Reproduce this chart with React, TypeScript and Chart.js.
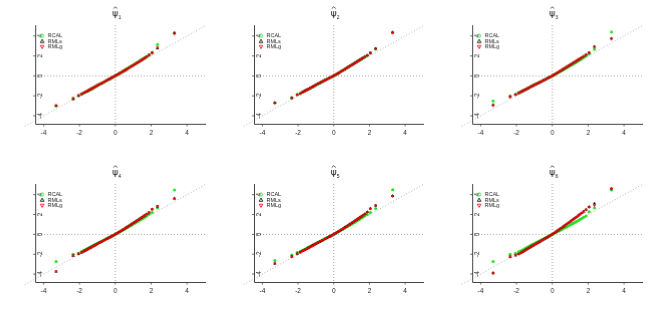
import React, { useEffect, useRef } from "react";
import { Chart, registerables } from "chart.js";
Chart.register(...registerables);

// theoretical quantiles (shared by every panel)
const xq = [-3.3, -2.35, -2.05, -1.88, -1.75, -1.64, -1.54, -1.45, -1.36, -1.27, -1.18, -1.09, -1.0, -0.9, -0.8, -0.7, -0.6, -0.5, -0.4, -0.3, -0.2, -0.1, 0, 0.1, 0.2, 0.3, 0.4, 0.5, 0.6, 0.7, 0.8, 0.9, 1.0, 1.09, 1.18, 1.27, 1.36, 1.45, 1.54, 1.64, 1.75, 1.88, 2.05, 2.35, 3.3];

const seriesNames = ["RCAL", "RMLs", "RMLg"];
const titleSymbols = ["ψ", "ψ", "ψ", "ψ", "ψ", "ψ"];
const titleSubs = ["1", "2", "3", "4", "5", "6"];
const xTicks = [-4, -2, 0, 2, 4];
const yTicks = [-4, -2, 0, 2, 4];

// panel 1
const rcal1 = [-3.0, -2.3, -2.0, -1.84, -1.72, -1.62, -1.53, -1.44, -1.35, -1.26, -1.16, -1.07, -0.98, -0.88, -0.78, -0.68, -0.58, -0.48, -0.38, -0.28, -0.18, -0.08, 0.02, 0.12, 0.23, 0.33, 0.44, 0.55, 0.66, 0.77, 0.89, 1.0, 1.11, 1.21, 1.31, 1.41, 1.51, 1.6, 1.7, 1.8, 1.92, 2.08, 2.33, 3.15, 4.32];
const rmls1 = [-3.0, -2.32, -1.96, -1.81, -1.69, -1.59, -1.5, -1.41, -1.32, -1.23, -1.14, -1.05, -0.96, -0.86, -0.76, -0.67, -0.57, -0.48, -0.38, -0.29, -0.19, -0.09, 0.01, 0.11, 0.21, 0.31, 0.41, 0.52, 0.62, 0.73, 0.84, 0.95, 1.06, 1.16, 1.26, 1.36, 1.46, 1.56, 1.67, 1.79, 1.92, 2.1, 2.32, 2.75, 4.28];
const rmlg1 = [-2.95, -2.22, -1.95, -1.8, -1.68, -1.58, -1.49, -1.4, -1.31, -1.22, -1.13, -1.04, -0.95, -0.86, -0.76, -0.67, -0.57, -0.48, -0.38, -0.29, -0.19, -0.09, 0.01, 0.11, 0.21, 0.31, 0.41, 0.52, 0.62, 0.73, 0.84, 0.95, 1.06, 1.16, 1.26, 1.36, 1.46, 1.56, 1.67, 1.79, 1.92, 2.1, 2.3, 2.85, 4.22];

// panel 2
const rcal2 = [-2.7, -2.2, -1.88, -1.76, -1.62, -1.52, -1.43, -1.35, -1.26, -1.18, -1.09, -1.0, -0.91, -0.81, -0.72, -0.62, -0.53, -0.44, -0.35, -0.26, -0.17, -0.08, 0.01, 0.11, 0.22, 0.32, 0.43, 0.54, 0.65, 0.76, 0.87, 0.98, 1.09, 1.19, 1.29, 1.39, 1.49, 1.59, 1.69, 1.8, 1.92, 2.05, 2.3, 2.72, 4.35];
const rmls2 = [-2.7, -2.2, -1.88, -1.76, -1.62, -1.52, -1.43, -1.35, -1.26, -1.18, -1.09, -1.0, -0.91, -0.81, -0.72, -0.62, -0.53, -0.44, -0.35, -0.26, -0.17, -0.08, 0.01, 0.11, 0.22, 0.32, 0.43, 0.54, 0.65, 0.76, 0.87, 0.98, 1.09, 1.19, 1.29, 1.39, 1.49, 1.59, 1.69, 1.8, 1.92, 2.05, 2.3, 2.72, 4.35];
const rmlg2 = [-2.7, -2.2, -1.88, -1.76, -1.62, -1.52, -1.43, -1.35, -1.26, -1.18, -1.09, -1.0, -0.91, -0.81, -0.72, -0.62, -0.53, -0.44, -0.35, -0.26, -0.17, -0.08, 0.01, 0.11, 0.22, 0.32, 0.43, 0.54, 0.65, 0.76, 0.87, 0.98, 1.09, 1.19, 1.29, 1.39, 1.49, 1.59, 1.69, 1.8, 1.92, 2.05, 2.3, 2.72, 4.35];

// panel 3
const rcal3 = [-2.5, -2.0, -1.82, -1.68, -1.57, -1.48, -1.39, -1.31, -1.22, -1.14, -1.06, -0.98, -0.9, -0.81, -0.72, -0.63, -0.54, -0.45, -0.36, -0.27, -0.18, -0.09, 0.0, 0.1, 0.2, 0.3, 0.4, 0.5, 0.6, 0.7, 0.8, 0.91, 1.01, 1.1, 1.19, 1.29, 1.39, 1.49, 1.59, 1.7, 1.83, 1.98, 2.2, 2.67, 4.4];
const rmls3 = [-2.9, -2.1, -1.88, -1.72, -1.6, -1.5, -1.41, -1.33, -1.24, -1.16, -1.07, -0.99, -0.91, -0.82, -0.73, -0.64, -0.55, -0.46, -0.37, -0.28, -0.18, -0.09, 0.01, 0.12, 0.23, 0.34, 0.45, 0.56, 0.67, 0.78, 0.89, 1.0, 1.11, 1.21, 1.31, 1.41, 1.51, 1.62, 1.72, 1.84, 1.97, 2.12, 2.33, 2.93, 3.73];
const rmlg3 = [-2.97, -2.1, -1.88, -1.72, -1.6, -1.5, -1.41, -1.33, -1.24, -1.16, -1.07, -0.99, -0.91, -0.82, -0.73, -0.64, -0.55, -0.46, -0.37, -0.28, -0.18, -0.09, 0.01, 0.12, 0.23, 0.34, 0.45, 0.56, 0.67, 0.78, 0.89, 1.0, 1.11, 1.21, 1.31, 1.41, 1.51, 1.62, 1.72, 1.84, 1.97, 2.12, 2.33, 2.9, 3.73];

// panel 4
const rcal4 = [-2.73, -2.0, -1.9, -1.72, -1.6, -1.5, -1.41, -1.32, -1.24, -1.15, -1.07, -0.98, -0.9, -0.8, -0.71, -0.62, -0.53, -0.44, -0.35, -0.26, -0.17, -0.08, 0.01, 0.1, 0.2, 0.3, 0.4, 0.5, 0.61, 0.71, 0.82, 0.92, 1.03, 1.13, 1.23, 1.33, 1.43, 1.53, 1.63, 1.74, 1.86, 2.0, 2.2, 2.67, 4.47];
const rmls4 = [-3.75, -2.15, -1.96, -1.83, -1.7, -1.6, -1.5, -1.41, -1.32, -1.23, -1.14, -1.05, -0.96, -0.86, -0.77, -0.67, -0.58, -0.48, -0.39, -0.29, -0.19, -0.09, 0.01, 0.12, 0.23, 0.34, 0.45, 0.56, 0.68, 0.79, 0.91, 1.02, 1.14, 1.25, 1.36, 1.46, 1.57, 1.68, 1.79, 1.91, 2.04, 2.2, 2.53, 2.8, 3.62];
const rmlg4 = [-3.73, -2.13, -1.95, -1.82, -1.7, -1.6, -1.5, -1.41, -1.32, -1.23, -1.14, -1.05, -0.96, -0.86, -0.77, -0.67, -0.58, -0.48, -0.39, -0.29, -0.19, -0.09, 0.01, 0.12, 0.23, 0.34, 0.45, 0.56, 0.68, 0.79, 0.91, 1.02, 1.14, 1.25, 1.36, 1.46, 1.57, 1.68, 1.79, 1.91, 2.04, 2.2, 2.53, 2.87, 3.6];

// panel 5
const rcal5 = [-2.63, -2.07, -1.83, -1.72, -1.6, -1.51, -1.42, -1.33, -1.25, -1.16, -1.08, -0.99, -0.91, -0.81, -0.72, -0.63, -0.54, -0.45, -0.36, -0.27, -0.18, -0.08, 0.01, 0.1, 0.2, 0.3, 0.4, 0.5, 0.61, 0.71, 0.82, 0.92, 1.03, 1.13, 1.23, 1.33, 1.43, 1.53, 1.64, 1.75, 1.87, 2.0, 2.2, 2.6, 4.5];
const rmls5 = [-2.95, -2.24, -1.95, -1.8, -1.68, -1.58, -1.48, -1.39, -1.3, -1.21, -1.12, -1.03, -0.95, -0.85, -0.76, -0.66, -0.57, -0.47, -0.38, -0.28, -0.19, -0.09, 0.01, 0.12, 0.23, 0.34, 0.45, 0.56, 0.68, 0.79, 0.91, 1.02, 1.14, 1.25, 1.36, 1.47, 1.58, 1.69, 1.8, 1.92, 2.06, 2.24, 2.6, 2.9, 3.87];
const rmlg5 = [-2.93, -2.23, -1.95, -1.8, -1.68, -1.58, -1.48, -1.39, -1.3, -1.21, -1.12, -1.03, -0.95, -0.85, -0.76, -0.66, -0.57, -0.47, -0.38, -0.28, -0.19, -0.09, 0.01, 0.12, 0.23, 0.34, 0.45, 0.56, 0.68, 0.79, 0.91, 1.02, 1.14, 1.25, 1.36, 1.47, 1.58, 1.69, 1.8, 1.92, 2.06, 2.24, 2.6, 2.93, 3.87];

// panel 6
const rcal6 = [-2.73, -2.0, -1.9, -1.76, -1.64, -1.54, -1.44, -1.35, -1.26, -1.17, -1.08, -1.0, -0.91, -0.82, -0.73, -0.64, -0.55, -0.46, -0.36, -0.27, -0.18, -0.09, 0.0, 0.09, 0.19, 0.28, 0.37, 0.47, 0.56, 0.66, 0.75, 0.85, 0.95, 1.04, 1.13, 1.22, 1.31, 1.4, 1.49, 1.6, 1.72, 1.86, 2.27, 2.67, 4.47];
const rmls6 = [-3.88, -2.25, -2.12, -1.98, -1.86, -1.75, -1.64, -1.54, -1.44, -1.34, -1.24, -1.14, -1.05, -0.95, -0.84, -0.74, -0.63, -0.53, -0.42, -0.32, -0.21, -0.1, 0.01, 0.13, 0.26, 0.39, 0.51, 0.64, 0.77, 0.9, 1.03, 1.16, 1.29, 1.41, 1.53, 1.65, 1.77, 1.9, 2.02, 2.16, 2.31, 2.5, 2.78, 3.1, 4.62];
const rmlg6 = [-3.95, -2.23, -2.12, -1.98, -1.86, -1.75, -1.64, -1.54, -1.44, -1.34, -1.24, -1.14, -1.05, -0.95, -0.84, -0.74, -0.63, -0.53, -0.42, -0.32, -0.21, -0.1, 0.01, 0.13, 0.26, 0.39, 0.51, 0.64, 0.77, 0.9, 1.03, 1.16, 1.29, 1.41, 1.53, 1.65, 1.77, 1.9, 2.02, 2.16, 2.31, 2.5, 2.75, 2.93, 4.6];

const panels = [
  { rcal: rcal1, rmls: rmls1, rmlg: rmlg1 },
  { rcal: rcal2, rmls: rmls2, rmlg: rmlg2 },
  { rcal: rcal3, rmls: rmls3, rmlg: rmlg3 },
  { rcal: rcal4, rmls: rmls4, rmlg: rmlg4 },
  { rcal: rcal5, rmls: rmls5, rmlg: rmlg5 },
  { rcal: rcal6, rmls: rmls6, rmlg: rmlg6 },
];

const GREEN = "#22e022";
const BLACK = "#000000";
const RED = "#ee0000";
const FONT = "'Liberation Sans', Arial, sans-serif";

const W = 656 / 3;
const H = 317 / 2;
const X_MIN = -4.47, X_MAX = 5.06, Y_MIN = -4.8, Y_MAX = 5.08, DIAG_START = -5.05;

const rPlot = {
  id: "rplot",
  beforeDatasetsDraw(chart: any) {
    const { ctx, chartArea: a, scales } = chart;
    const x = scales.x, y = scales.y;
    ctx.save();
    ctx.strokeStyle = "#8a8a8a";
    ctx.lineWidth = 0.8;
    ctx.setLineDash([1, 2]);
    const x0 = x.getPixelForValue(0), y0 = y.getPixelForValue(0);
    ctx.beginPath();
    ctx.moveTo(x0, a.top); ctx.lineTo(x0, a.bottom);
    ctx.moveTo(a.left, y0); ctx.lineTo(a.right, y0);
    ctx.stroke();
    ctx.strokeStyle = "#a0a0a0";
    ctx.beginPath();
    ctx.moveTo(x.getPixelForValue(DIAG_START), y.getPixelForValue(DIAG_START));
    ctx.lineTo(x.getPixelForValue(X_MAX), y.getPixelForValue(X_MAX));
    ctx.stroke();
    ctx.restore();
  },
  afterDraw(chart: any, _args: any, opts: any) {
    const { ctx, chartArea: a, scales } = chart;
    const x = scales.x, y = scales.y;
    ctx.save();
    // axis lines
    ctx.strokeStyle = "#444";
    ctx.lineWidth = 1;
    ctx.beginPath();
    ctx.moveTo(Math.round(a.left) + 0.5, a.top);
    ctx.lineTo(Math.round(a.left) + 0.5, Math.round(a.bottom) + 0.5);
    ctx.lineTo(a.right, Math.round(a.bottom) + 0.5);
    ctx.stroke();
    // x ticks
    ctx.fillStyle = "#222";
    ctx.font = `6.5px ${FONT}`;
    ctx.textAlign = "center";
    ctx.textBaseline = "middle";
    ctx.lineWidth = 0.8;
    for (const t of xTicks) {
      const px = x.getPixelForValue(t);
      ctx.beginPath();
      ctx.moveTo(px, a.bottom);
      ctx.lineTo(px, a.bottom + 2.5);
      ctx.stroke();
      ctx.fillText(String(t), px, a.bottom + 9.5);
    }
    // y ticks (rotated labels inside)
    for (const t of yTicks) {
      const py = y.getPixelForValue(t);
      ctx.beginPath();
      ctx.moveTo(a.left, py);
      ctx.lineTo(a.left - 2, py);
      ctx.stroke();
      ctx.save();
      ctx.translate(a.left + 5, py);
      ctx.rotate(-Math.PI / 2);
      ctx.fillText(String(t), 0, 0);
      ctx.restore();
    }
    // title: letter with hat and subscript
    const tx = x.getPixelForValue(0);
    ctx.fillStyle = "#111";
    ctx.font = `9px 'DejaVu Sans', ${FONT}`;
    ctx.textAlign = "center";
    ctx.textBaseline = "middle";
    ctx.fillText(opts.title, tx, 13.5);
    ctx.strokeStyle = "#111";
    ctx.lineWidth = 0.7;
    ctx.beginPath();
    ctx.moveTo(tx - 2, 8.5);
    ctx.lineTo(tx, 6.8);
    ctx.lineTo(tx + 2, 8.5);
    ctx.stroke();
    ctx.font = `5px ${FONT}`;
    ctx.textAlign = "left";
    ctx.fillText(opts.sub, tx + 3, 17.5);
    // legend
    ctx.font = `5.5px ${FONT}`;
    ctx.textBaseline = "middle";
    const lx = a.left + 7, tx2 = a.left + 12.5;
    const rows = [a.top + 10.5, a.top + 16, a.top + 21.5];
    ctx.lineWidth = 0.8;
    ctx.strokeStyle = GREEN;
    ctx.beginPath();
    ctx.arc(lx, rows[0], 1.6, 0, Math.PI * 2);
    ctx.stroke();
    ctx.strokeStyle = BLACK;
    ctx.beginPath();
    ctx.moveTo(lx, rows[1] - 1.9);
    ctx.lineTo(lx + 1.8, rows[1] + 1.3);
    ctx.lineTo(lx - 1.8, rows[1] + 1.3);
    ctx.closePath();
    ctx.stroke();
    ctx.strokeStyle = RED;
    ctx.beginPath();
    ctx.moveTo(lx, rows[2] + 1.9);
    ctx.lineTo(lx + 1.8, rows[2] - 1.3);
    ctx.lineTo(lx - 1.8, rows[2] - 1.3);
    ctx.closePath();
    ctx.stroke();
    ctx.fillStyle = "#222";
    seriesNames.forEach((n, i) => ctx.fillText(n, tx2, rows[i]));
    ctx.restore();
  },
};

function Panel({ idx }: { idx: number }) {
  const ref = useRef<HTMLCanvasElement>(null);
  useEffect(() => {
    const p = panels[idx];
    const mk = (ys: number[]) => xq.map((xv, i) => ({ x: xv, y: ys[i] }));
    const chart = new Chart(ref.current as HTMLCanvasElement, {
      type: "scatter",
      data: {
        datasets: [
          { label: seriesNames[2], data: mk(p.rmlg), pointStyle: "triangle", rotation: 180, pointRadius: 1.9, backgroundColor: RED, borderColor: RED, borderWidth: 0, order: 0 } as any,
          { label: seriesNames[1], data: mk(p.rmls), pointStyle: "triangle", pointRadius: 1.9, backgroundColor: BLACK, borderColor: BLACK, borderWidth: 0, order: 1 } as any,
          { label: seriesNames[0], data: mk(p.rcal), pointStyle: "circle", pointRadius: 1.5, backgroundColor: GREEN, borderColor: GREEN, borderWidth: 0, order: 2 } as any,
        ],
      },
      options: {
        animation: false,
        responsive: true,
        maintainAspectRatio: false,
        events: [],
        layout: { padding: { left: 35, right: W - 205, top: 25, bottom: H - 123 } },
        scales: {
          x: { type: "linear", min: X_MIN, max: X_MAX, display: false },
          y: { type: "linear", min: Y_MIN, max: Y_MAX, display: false },
        },
        plugins: {
          legend: { display: false },
          tooltip: { enabled: false },
          rplot: { title: titleSymbols[idx], sub: titleSubs[idx] },
        } as any,
      },
      plugins: [rPlot as any],
    });
    return () => chart.destroy();
  }, [idx]);
  const c = idx % 3, r = Math.floor(idx / 3);
  return (
    <div style={{ position: "absolute", left: c * W, top: r * H, width: W, height: H }}>
      <canvas ref={ref} />
    </div>
  );
}

export default function App() {
  return (
    <div style={{ position: "fixed", left: 0, top: 0, width: 656, height: 317, background: "#fff", overflow: "hidden" }}>
      {[0, 1, 2, 3, 4, 5].map((i) => (
        <Panel key={i} idx={i} />
      ))}
    </div>
  );
}
